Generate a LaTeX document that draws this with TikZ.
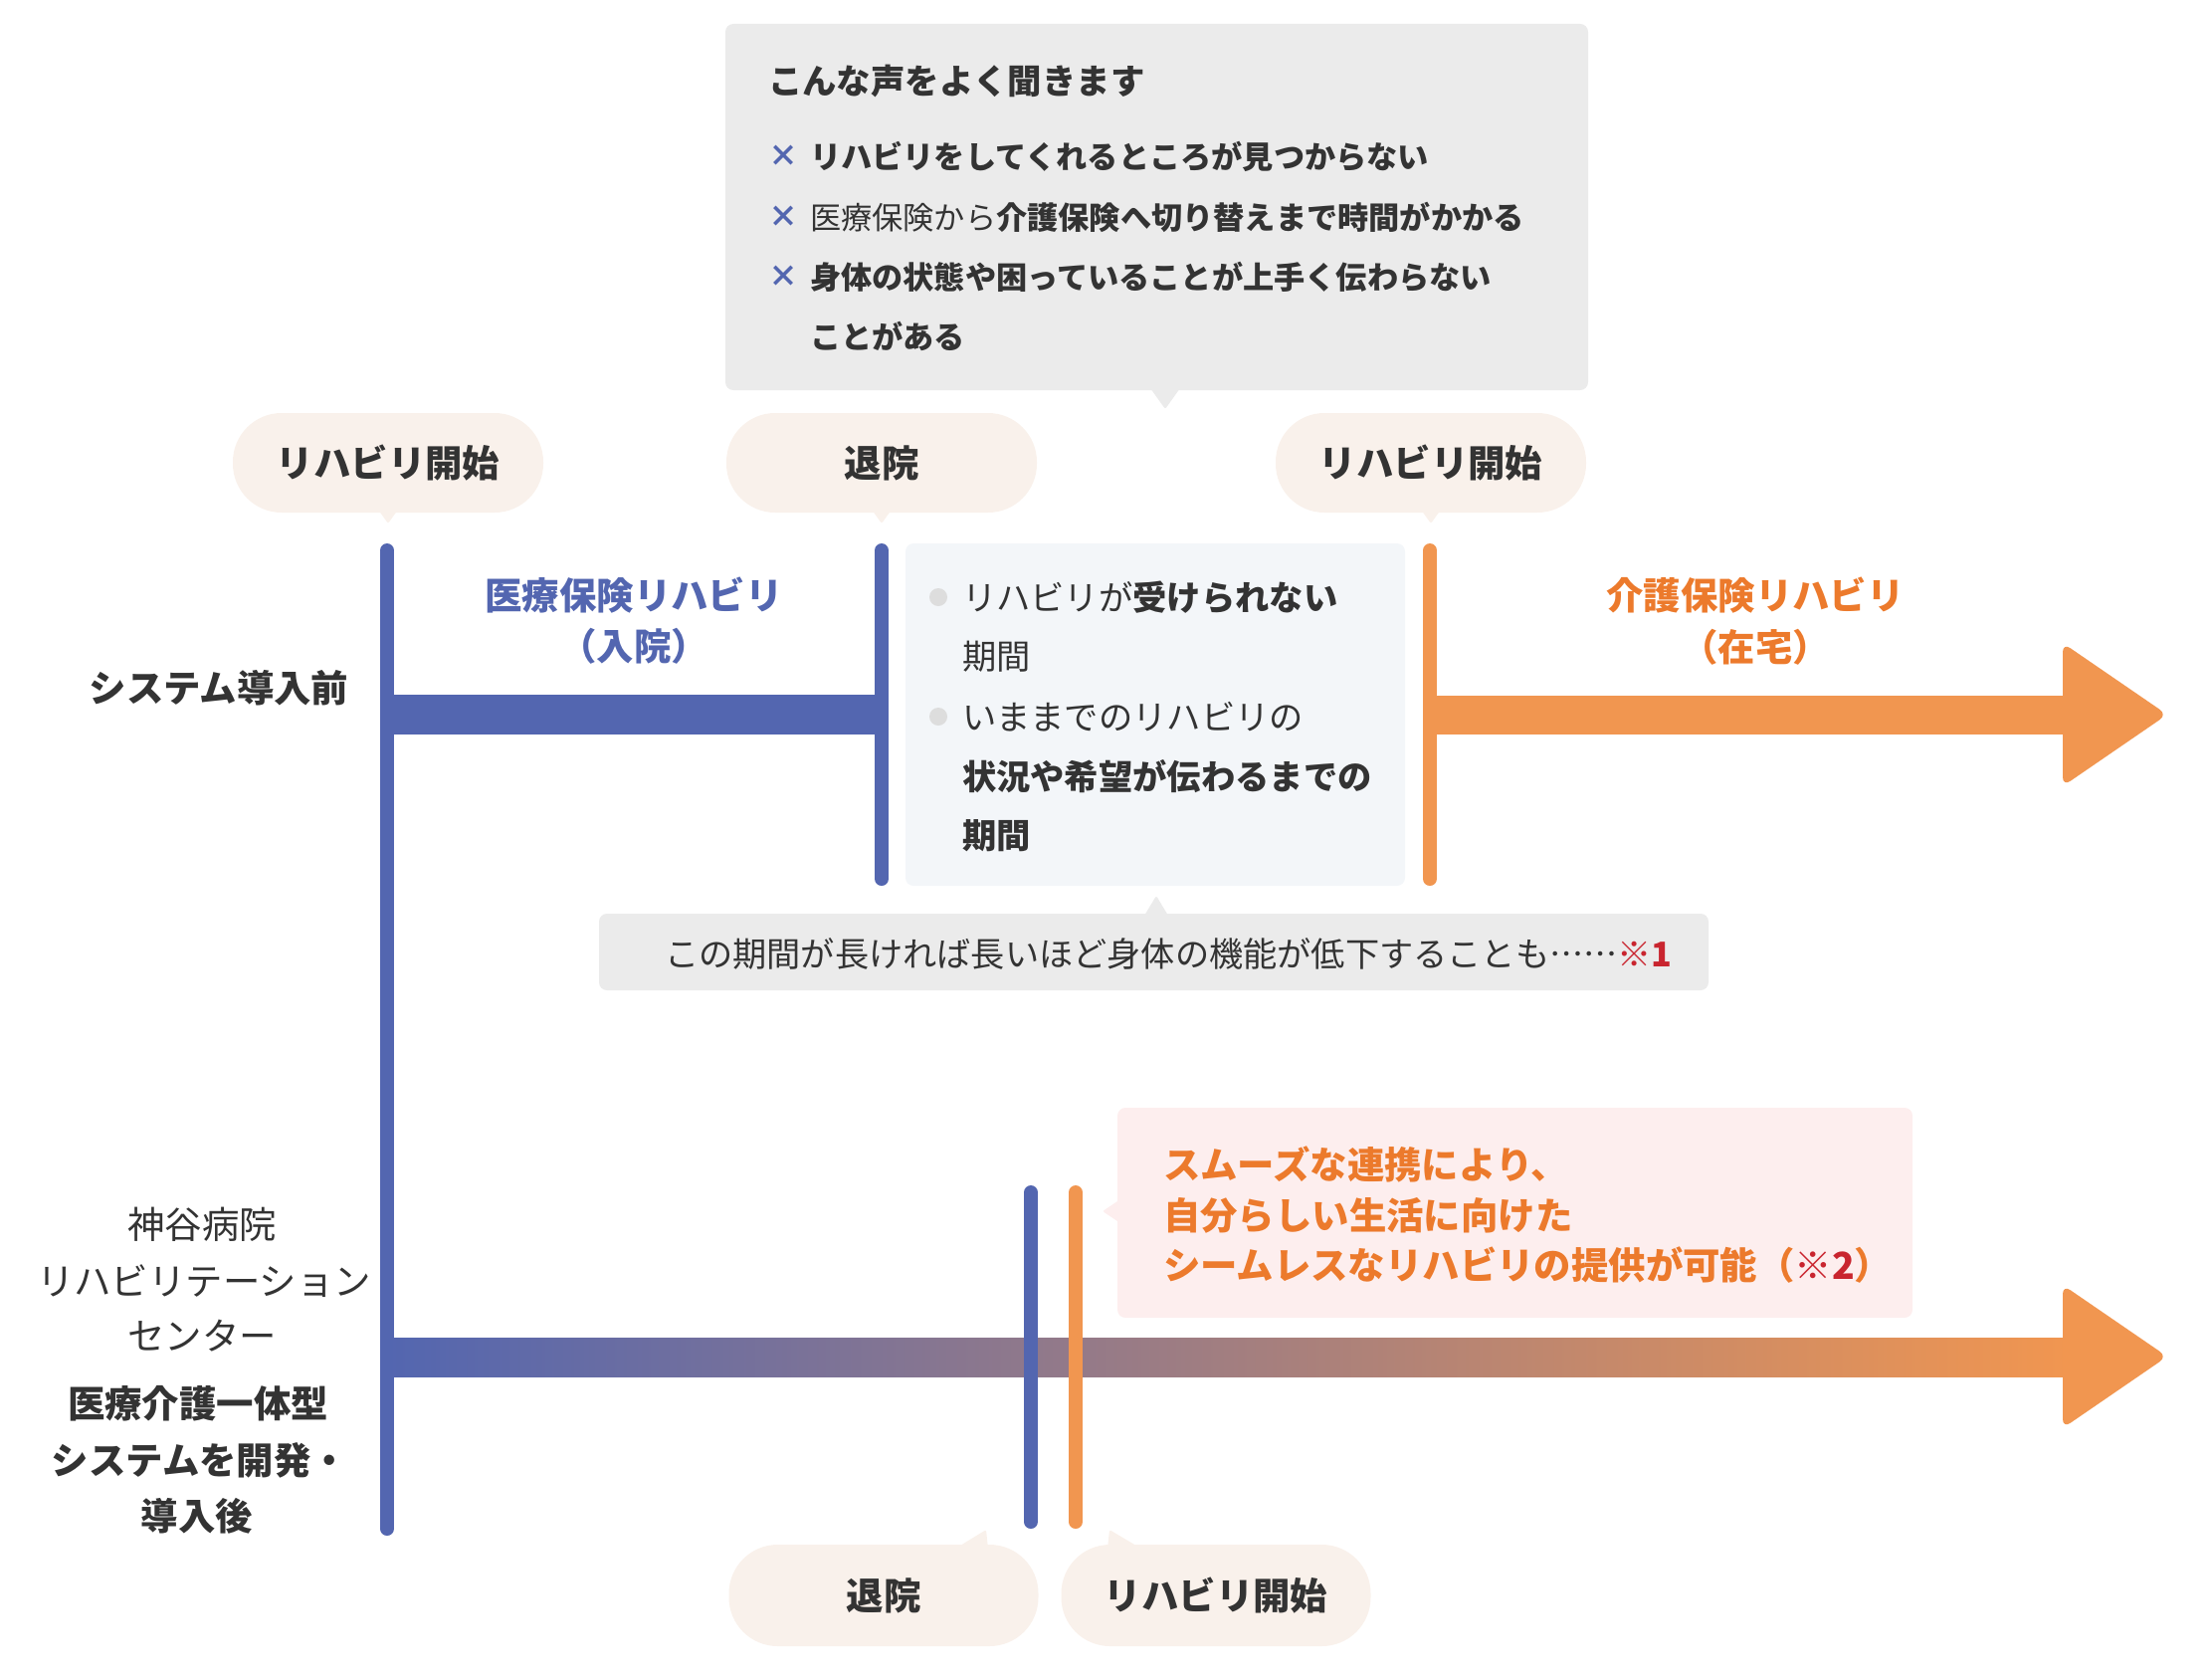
\documentclass[tikz,border=0pt]{standalone}
\usepackage{fontspec}
\setmainfont{Noto Sans CJK JP}
\newcommand\fsz[1]{\fontsize{#1}{#1}\selectfont}
\newcommand\fullell{{\addfontfeatures{Script=CJK,CharacterWidth=Full}……}}
\definecolor{cblue}{HTML}{5366B0}
\definecolor{corange}{HTML}{F19650}
\definecolor{ctorange}{HTML}{EC7A2C}
\definecolor{cred}{HTML}{C9252F}
\definecolor{cgrey}{HTML}{EBEBEB}
\definecolor{cpill}{HTML}{F9F1EB}
\definecolor{cmid}{HTML}{F3F6F9}
\definecolor{cpink}{HTML}{FDEEEE}
\definecolor{ctxt}{HTML}{333333}
\definecolor{cdot}{HTML}{DDDDDD}
\begin{document}
\begin{tikzpicture}[x=1pt,y=-1pt,
  every node/.style={inner sep=0pt,outer sep=0pt,text=ctxt},
  pill/.style={fill=cpill,rounded corners=49pt,minimum width=312pt,minimum height=100pt,font=\fsz{37.4}\bfseries},
  big/.style={font=\fsz{37.4}\bfseries},
  bigreg/.style={font=\fsz{37.4}},
  item/.style={anchor=west,font=\fsz{31.2}},
  mid/.style={anchor=west,font=\fsz{34.3}},
  xmark/.style={font=\fsz{30}\bfseries,text=cblue},
  vline/.style={line width=14pt,line cap=round},
  box/.style={rounded corners=8pt}
]
\useasboundingbox (0,0) rectangle (2223,1686);

% ---------- top grey speech box ----------
\fill[cgrey,box] (729,24) rectangle (1596,392);
\fill[cgrey,rounded corners=2pt] (1156,390) -- (1186,390) -- (1171,411) -- cycle;
\node[anchor=west,font=\fsz{34.4}\bfseries] (hd) at (772,82) {こんな声をよく聞きます};
\node[xmark] (x1) at (787,157) {×};
\node[xmark] (x2) at (787,218) {×};
\node[xmark] (x3) at (787,278) {×};
\node[item] (i1) at (814,157) {\bfseries リハビリをしてくれるところが見つからない};
\node[item] (i2) at (814,218) {医療保険から\textbf{介護保険へ切り替えまで時間がかかる}};
\node[item] (i3) at (814,278) {\bfseries 身体の状態や困っていることが上手く伝わらない};
\node[item] (i4) at (814,338) {\bfseries ことがある};

% ---------- top pills ----------
\node[pill] (p1) at (390,465) {リハビリ開始};
\fill[cpill,rounded corners=2pt] (380,512) -- (400,512) -- (390,526) -- cycle;
\node[pill] (p2) at (886,465) {退院};
\fill[cpill,rounded corners=2pt] (876,512) -- (896,512) -- (886,526) -- cycle;
\node[pill] (p3) at (1438,465) {リハビリ開始};
\fill[cpill,rounded corners=2pt] (1428,512) -- (1448,512) -- (1438,526) -- cycle;

% ---------- before system ----------
\node[big] (before) at (220,691) {システム導入前};
\fill[cblue] (389,698) rectangle (886,738);
\draw[cblue,vline] (389,553) -- (389,1536);
\draw[cblue,vline] (886,553) -- (886,883);
\node[big,text=cblue] (med1) at (637,598) {医療保険リハビリ};
\node[big,text=cblue] (med2) at (637,649) {（入院）};

% middle gap box
\fill[cmid,box] (910,546) rectangle (1412,890);
\fill[cdot] (943,600) circle (9);
\fill[cdot] (943,720) circle (9);
\node[mid] (m1) at (967,600) {リハビリが\textbf{受けられない}};
\node[mid] (m2) at (967,660) {期間};
\node[mid] (m3) at (967,720) {いままでのリハビリの};
\node[mid] (m4) at (967,780) {\bfseries 状況や希望が伝わるまでの};
\node[mid] (m5) at (967,840) {\bfseries 期間};

% orange care arrow
\draw[corange,vline] (1437,553) -- (1437,883);
\fill[corange] (1437,699) rectangle (2080,738);
\fill[corange,rounded corners=9pt] (2073,646) -- (2178,718) -- (2073,790) -- cycle;
\node[big,text=ctorange] (care1) at (1764,598) {介護保険リハビリ};
\node[big,text=ctorange] (care2) at (1764,650) {（在宅）};

% note box
\fill[cgrey,box] (602,918) rectangle (1717,995);
\fill[cgrey,rounded corners=2pt] (1150,920) -- (1174,920) -- (1162,900) -- cycle;
\node[anchor=west,font=\fsz{34.2}] (note) at (668,958) {この期間が長ければ長いほど身体の機能が低下することも\fullell\textcolor{cred}{※\textbf{1}}};

% ---------- after system ----------
\node[bigreg] (a1) at (203,1230) {神谷病院};
\node[bigreg] (a2) at (205,1287) {リハビリテーション};
\node[bigreg] (a3) at (203,1342) {センター};
\node[big] (a4) at (199,1410) {医療介護一体型};
\node[big] (a5) at (201,1467) {システムを開発・};
\node[big] (a6) at (198,1523) {導入後};

\shade[left color=cblue,right color=corange] (389,1344) rectangle (2080,1383);
\fill[corange,rounded corners=9pt] (2073,1291) -- (2178,1363) -- (2073,1435) -- cycle;
\draw[cblue,vline] (1036,1198) -- (1036,1529);
\draw[corange,vline] (1081,1198) -- (1081,1529);

% pink box
\fill[cpink,box] (1123,1113) rectangle (1922,1324);
\fill[cpink,rounded corners=2pt] (1126,1205) -- (1126,1229) -- (1108,1217) -- cycle;
\node[anchor=west,big,text=ctorange] (s1) at (1169,1170) {スムーズな連携により、};
\node[anchor=west,big,text=ctorange] (s2) at (1169,1221) {自分らしい生活に向けた};
\node[anchor=west,big,text=ctorange] (s3) at (1169,1271) {シームレスなリハビリの提供が可能（\textcolor{cred}{\mdseries※\bfseries 2}）};

% bottom pills
\node[pill,minimum width=311pt,minimum height=102pt] (b1) at (888,1603) {退院};
\fill[cpill,rounded corners=2pt] (960,1556) -- (993,1556) -- (991,1537) -- cycle;
\node[pill,minimum width=311pt,minimum height=102pt] (b2) at (1222,1603) {リハビリ開始};
\fill[cpill,rounded corners=2pt] (1113,1556) -- (1147,1556) -- (1115,1537) -- cycle;
\end{tikzpicture}
\end{document}
